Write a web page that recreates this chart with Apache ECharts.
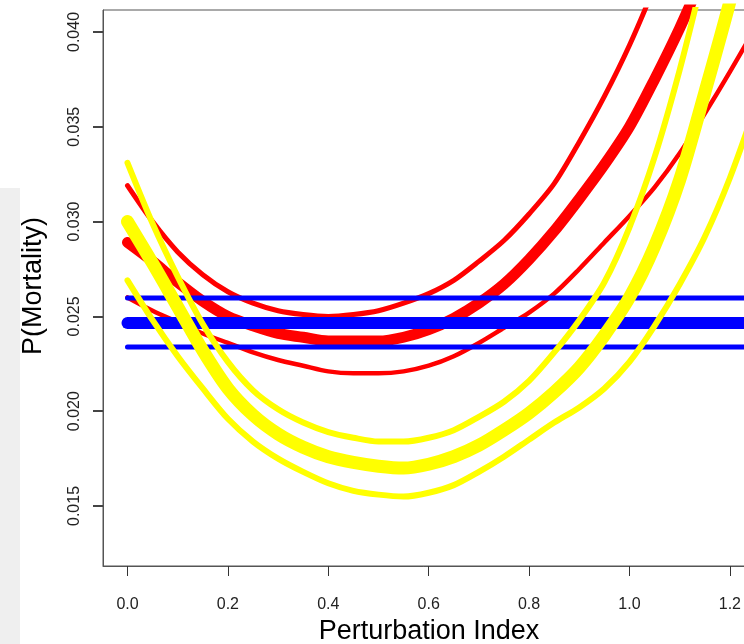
<!DOCTYPE html>
<html><head><meta charset="utf-8">
<script src="https://cdn.jsdelivr.net/npm/echarts@6/dist/echarts.min.js"></script>
<style>html,body{margin:0;padding:0;background:#fff}#c{width:744px;height:644px}</style>
</head><body><div id="c"></div>
<script>
// x positions (Perturbation Index) at which the curves were read
const xValues = [0, 0.05, 0.1, 0.15, 0.2, 0.25, 0.3, 0.35, 0.4, 0.45, 0.5, 0.55, 0.6, 0.65,
                 0.7, 0.75, 0.8, 0.85, 0.9, 0.95, 1.0, 1.05, 1.1, 1.15, 1.2, 1.25, 1.3];
const xTicks = [0, 0.2, 0.4, 0.6, 0.8, 1.0, 1.2];
const yTicks = [0.015, 0.020, 0.025, 0.030, 0.035, 0.040];

// red curves
const red1 = [0.0319, 0.0300, 0.0284, 0.0272, 0.0263, 0.0257, 0.0253, 0.0251, 0.0250, 0.0251, 0.0253, 0.0257, 0.0262, 0.0269,
              0.0279, 0.0290, 0.0304, 0.0320, 0.0342, 0.0366, 0.0393, 0.0424, 0.0458];
const red2 = [0.0289, 0.0279, 0.0268, 0.0258, 0.0250, 0.0245, 0.0241, 0.0239, 0.0237, 0.0237, 0.0237, 0.0239, 0.0243, 0.0249,
              0.0257, 0.0267, 0.0280, 0.0295, 0.0312, 0.0330, 0.0350, 0.0375, 0.0402, 0.0432];
const red3 = [0.0260, 0.0253, 0.0247, 0.0241, 0.0236, 0.0231, 0.0227, 0.0224, 0.0221, 0.0220, 0.0220, 0.0221, 0.0224, 0.0229,
              0.0236, 0.0244, 0.0252, 0.0262, 0.0275, 0.0289, 0.0303, 0.0318, 0.0336, 0.0357, 0.0379, 0.0402, 0.0426];
// blue horizontal levels
const blueLevels = [0.02597, 0.02465, 0.02339];
const blueX = [0, 1.3];
// yellow curves
const yellow1 = [0.0331, 0.0299, 0.0271, 0.0246, 0.0226, 0.0211, 0.0201, 0.0194, 0.0189, 0.0186, 0.0184, 0.0184, 0.0186, 0.0190,
                 0.0197, 0.0205, 0.0216, 0.0231, 0.0248, 0.0268, 0.0297, 0.0334, 0.0380, 0.0433];
const yellow2 = [0.0300, 0.0278, 0.0255, 0.0232, 0.0212, 0.0198, 0.0188, 0.0181, 0.0176, 0.0173, 0.0171, 0.0170, 0.0172, 0.0176,
                 0.0182, 0.0190, 0.0199, 0.0210, 0.0223, 0.0240, 0.0260, 0.0287, 0.0322, 0.0368, 0.0416, 0.0470];
const yellow3 = [0.0269, 0.0248, 0.0229, 0.0212, 0.0196, 0.0184, 0.0175, 0.0168, 0.0162, 0.0158, 0.0156, 0.0155, 0.0157, 0.0161,
                 0.0168, 0.0176, 0.0185, 0.0194, 0.0202, 0.0212, 0.0226, 0.0245, 0.0267, 0.0292, 0.0323, 0.0360, 0.0400];

const pairs = ys => ys.map((y, i) => [xValues[i], y]);
const FONT = '"Liberation Sans", Arial, sans-serif';

function curve(name, ys, color, width) {
  return {
    name, type: 'line', data: pairs(ys), showSymbol: false, smooth: 0.3,
    lineStyle: { color, width, cap: 'round', join: 'round' }, silent: true, animation: false
  };
}
function hline(name, level, width) {
  return {
    name, type: 'line', data: blueX.map(x => [x, level]), showSymbol: false,
    lineStyle: { color: '#0000ff', width, cap: 'round' }, silent: true, animation: false
  };
}

const chart = echarts.init(document.getElementById('c'), null, { renderer: 'canvas' });
chart.setOption({
  animation: false,
  grid: {
    left: 103, top: 10, width: 662, height: 556,
    show: true, borderColor: '#555', borderWidth: 1,
    outerBoundsMode: 'none'
  },
  xAxis: {
    type: 'value', min: -0.0488, max: 1.27,
    axisLine: { show: true, onZero: false, lineStyle: { color: '#555', width: 1 } },
    splitLine: { show: false },
    axisTick: { length: 10, customValues: xTicks, lineStyle: { color: '#333', width: 1 } },
    axisLabel: { customValues: xTicks, margin: 31, color: '#222', fontSize: 16, fontFamily: FONT,
      formatter: v => v.toFixed(1) }
  },
  yAxis: {
    type: 'value', min: 0.011835, max: 0.04116,
    axisLine: { show: true, onZero: false, lineStyle: { color: '#555', width: 1 } },
    splitLine: { show: false },
    axisTick: { length: 10, customValues: yTicks, lineStyle: { color: '#444', width: 2 } },
    axisLabel: { customValues: yTicks, margin: 20, rotate: 90, color: '#222', fontSize: 16, fontFamily: FONT,
      formatter: v => v.toFixed(3) }
  },
  series: [
    curve('red1', red1, '#ff0000', 5),
    curve('red2', red2, '#ff0000', 11),
    curve('red3', red3, '#ff0000', 4.5),
    hline('blueHigh', blueLevels[0], 5),
    hline('blueMid', blueLevels[1], 12),
    hline('blueLow', blueLevels[2], 5),
    curve('yellow1', yellow1, '#ffff00', 6),
    curve('yellow2', yellow2, '#ffff00', 13),
    curve('yellow3', yellow3, '#ffff00', 6)
  ]
});

chart.setOption({
  graphic: [
    { type: 'rect', id: 'band', left: 0, top: 188, shape: { width: 20, height: 456 }, style: { fill: '#efefef' }, z: -10 },
    { type: 'text', id: 'xname', x: 429, y: 632, style: { text: 'Perturbation Index', fontSize: 27, fontFamily: FONT,
      fill: '#000', align: 'center', verticalAlign: 'middle' } },
    { type: 'text', id: 'yname', x: 34, y: 286, rotation: Math.PI / 2, style: { text: 'P(Mortality)', fontSize: 27, fontFamily: FONT,
      fill: '#000', align: 'center', verticalAlign: 'middle' } }
  ]
});
</script></body></html>
